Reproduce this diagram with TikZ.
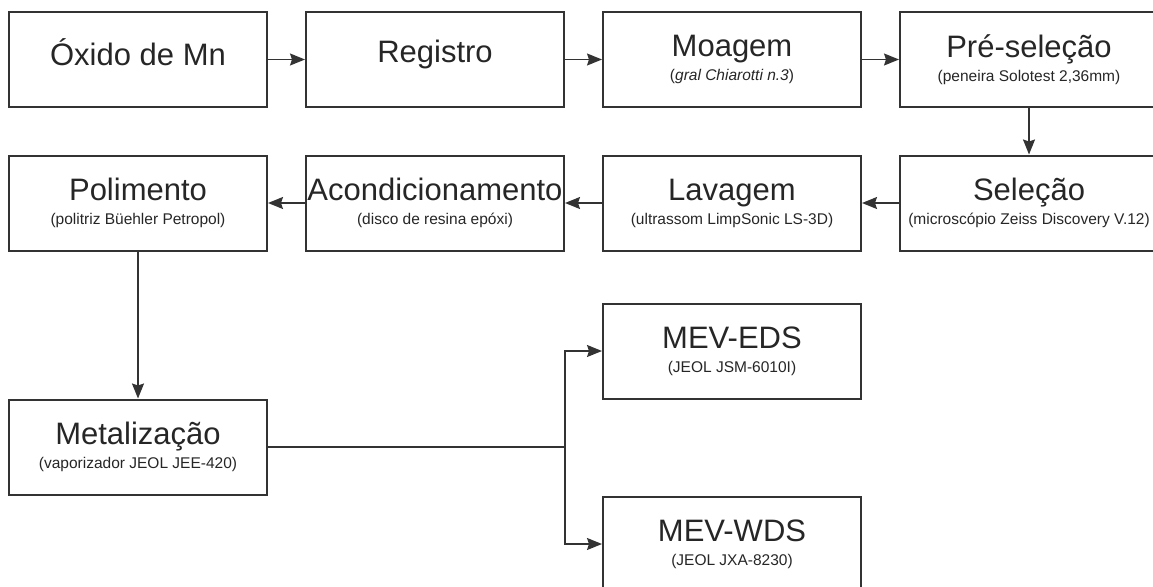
\documentclass[tikz,border=0pt]{standalone}
\usepackage{fontspec}
\setmainfont{Liberation Sans}
\usetikzlibrary{arrows.meta,positioning}
\newcommand{\titf}{\fontsize{31}{24}\selectfont}
\newcommand{\subf}{\fontsize{15.5}{24}\selectfont}

\begin{document}
\begin{tikzpicture}[x=1pt,y=1pt,->,>={Stealth[length=15pt,width=12pt,inset=2pt]},
        black!80,line width=1.5pt,node distance=297pt,
        box/.style={rectangle,draw,line width=2pt,minimum width=258pt,minimum height=95pt,
          inner sep=0pt,align=center,text=black!85,font=\subf}]
        \useasboundingbox (0,0) rectangle (1153,-586);
        \node[box]  (1) at (138,-59.5) [text depth=14pt] {{\titf Óxido de Mn}};
        \node[box]  (2) [right of=1,text depth=15.5pt] {{\titf Registro}};
        \node[box]  (3) [right of=2] {{\titf Moagem}\\(\textit{gral Chiarotti n.3})};
        \node[box]  (4) [right of=3] {{\titf Pré-seleção}\\(peneira Solotest 2,36mm)};
        \node[box]  (5) [below of=4,node distance=143.5pt] {{\titf Seleção}\\(microscópio Zeiss Discovery V.12)};
        \node[box]  (6) [left of=5] {{\titf Lavagem}\\(ultrassom LimpSonic LS-3D)};
        \node[box]  (7) [left of=6] {{\titf Acondicionamento}\\(disco de resina epóxi)};
        \node[box]  (8) [left of=7] {{\titf Polimento}\\(politriz Büehler Petropol)};
        \node[box]  (9) [below of=8,node distance=244pt] {{\titf Metalização}\\(vaporizador JEOL JEE-420)};
        \node[box] (10) [below of=6,node distance=148pt] {{\titf MEV-EDS}\\(JEOL JSM-6010I)};
        \node[box] (11) [below of=10,node distance=193pt] {{\titf MEV-WDS}\\(JEOL JXA-8230)};
        \coordinate (f) at (9.east -| 7.east);
        \path
          (1) edge (2)
          (2) edge (3)
          (3) edge (4)
          (4) edge (5)
          (5) edge (6)
          (6) edge (7)
          (7) edge (8)
          (8) edge (9)
          ;
        \draw (9) -- (f) |- (10);
        \draw (f) |- (11);
      \end{tikzpicture}
\end{document}
